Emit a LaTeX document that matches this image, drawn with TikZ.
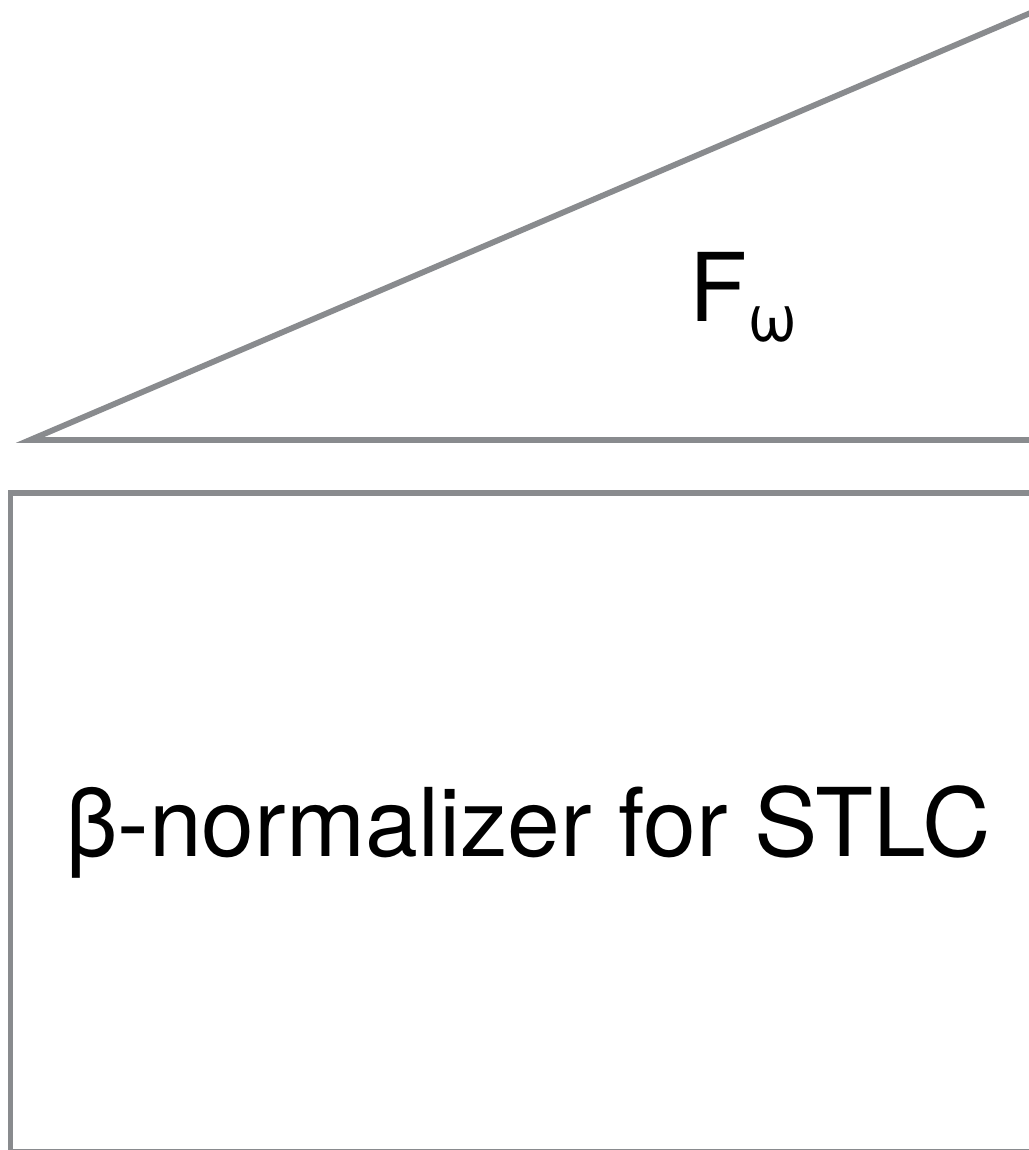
\documentclass[tikz,border=0pt]{standalone}
\usepackage{fontspec}
\setmainfont{TeX Gyre Heros}
\definecolor{EdgeGray}{HTML}{898B8E}
\usetikzlibrary{positioning}

\begin{document}
\begin{tikzpicture}[
      edge/.style={draw=EdgeGray, line width=3.3pt},
      lbl/.style={anchor=base, inner sep=0pt, font=\fontsize{54}{60}\selectfont}
    ]
      \useasboundingbox (0,0) rectangle (20.58,23);
      \clip (0,0) rectangle (20.58,23);
      % upper layer: triangle
      \coordinate (tl) at (0.6,14.2);
      \coordinate (tr) at (21.5,23.12);
      \coordinate (br) at (21.5,14.2);
      \draw[edge] (tr) -- (tl) -- (br);
      \node[lbl] (fw) at (14.88,16.56) {F\textsubscript{ω}};
      % lower layer: box
      \draw[edge] (21.5,13.14) -- (0.21,13.14) -- (0.21,-0.03) -- (21.5,-0.03);
      \node[lbl] (norm) at (10.56,5.86) {β-normalizer for STLC};
    \end{tikzpicture}
\end{document}
